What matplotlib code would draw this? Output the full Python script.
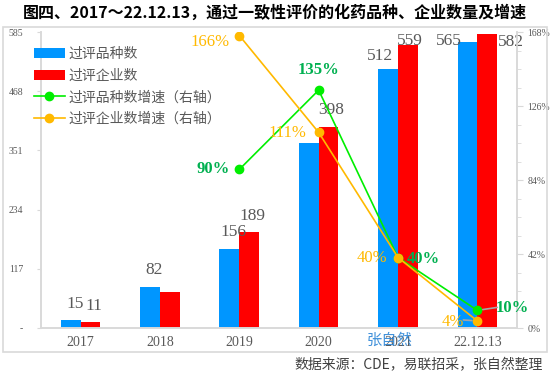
import matplotlib
matplotlib.use('Agg')
import matplotlib.pyplot as plt
from matplotlib.patches import Rectangle

plt.rcParams['font.family'] = ['Noto Sans CJK SC', 'DejaVu Sans']

cats = ['2017', '2018', '2019', '2020', '2021', '22.12.13']
species = [15, 82, 156, 366, 512, 565]
firms = [11, 71, 189, 398, 559, 582]
species_growth = [None, None, 90, 135, 40, 10]
firms_growth = [None, None, 166, 111, 40, 4]
left_ticks = [0, 117, 234, 351, 468, 585]
right_ticks = [0, 42, 84, 126, 168]

# label offsets in pixels (dx, dy), None = no label
species_lab_off = [(4, 16), (4, 16.5), (4, 17), None, (-8, 13), (-19, 1)]
firms_lab_off = [(3, 16), None, (3, 16), (3, 16.5), (2, 4), (24, -8)]
sg_off = [None, None, (-26, 0), (0, 20), (25, -1), (35, 2)]
fg_off = [None, None, (-29, -6), (-31, -1), (-26, 0), (-25, -1)]

BLUE = '#0096FF'
RED = '#FF0000'
GREEN = '#00EE00'
GREEN_T = '#00B050'
ORANGE = '#FFB900'
GRAY = '#595959'
AX = '#D9D9D9'
NUM = 'Liberation Serif'

fig = plt.figure(figsize=(5.5, 3.76), dpi=100)
ax = fig.add_axes([41/550, 1-328/376, 476/550, 296/376])
ax2 = ax.twinx()

x = list(range(len(cats)))
w = 0.25
b1 = ax.bar([i - w/2 for i in x], species, w, color=BLUE, label='过评品种数', zorder=2)
b2 = ax.bar([i + w/2 for i in x], firms, w, color=RED, label='过评企业数', zorder=2)

ax.set_xlim(-0.5, len(cats) - 0.5)
ax.set_ylim(0, 585)
ax.set_yticks(left_ticks)
ax.set_yticklabels(['-'] + [str(t) for t in left_ticks[1:]], fontsize=7, color=GRAY, family=NUM)
ax.set_xticks(x)
ax.set_xticklabels(cats, fontsize=10, color=GRAY, family=NUM)
ax.tick_params(axis='x', length=0, pad=6)
ax.tick_params(axis='y', length=3, color=AX, pad=10)

ax2.set_ylim(0, 168)
ax2.set_yticks(right_ticks)
ax2.set_yticklabels([f'{t}%' for t in right_ticks], fontsize=7, color=GRAY, family=NUM)
ax2.set_yticks([t + 10.5 * k for t in right_ticks[:-1] for k in (1, 2, 3)], minor=True)
ax2.tick_params(axis='y', which='major', length=4, color=AX)
ax2.tick_params(axis='y', which='minor', length=3, color=AX)

for a in (ax, ax2):
    a.spines['top'].set_visible(False)
    for s in ('left', 'right', 'bottom'):
        a.spines[s].set_color(AX)
        a.spines[s].set_linewidth(1.2)

xs = [i for i in x if species_growth[i] is not None]
l1, = ax2.plot(xs, [species_growth[i] for i in xs], color=GREEN, lw=1.2, marker='o',
               ms=6, label='过评品种数增速（右轴）', zorder=3)
l2, = ax2.plot(xs, [firms_growth[i] for i in xs], color=ORANGE, lw=1.2, marker='o',
               ms=6, label='过评企业数增速（右轴）', zorder=3)

# bar labels
for vals, offs, dx0 in ((species, species_lab_off, -w/2), (firms, firms_lab_off, w/2)):
    for i, v in enumerate(vals):
        if offs[i] is None:
            continue
        ax.annotate(str(v), (i + dx0, v), xytext=offs[i], textcoords='offset pixels',
                    ha='center', va='center', fontsize=12.5, color=GRAY, family=NUM, zorder=5)

# growth labels
for vals, offs, col, wt in ((species_growth, sg_off, GREEN_T, 'bold'), (firms_growth, fg_off, ORANGE, 'normal')):
    for i, v in enumerate(vals):
        if v is None:
            continue
        ax2.annotate(f'{v}%', (i, v), xytext=offs[i], textcoords='offset pixels',
                     ha='center', va='center', fontsize=12, color=col, family=NUM,
                     weight=wt, zorder=6)

# leader lines for the small labels
ax2.annotate('', (5, species_growth[5]), xytext=(20, 3), textcoords='offset pixels',
             arrowprops=dict(arrowstyle='-', color='#A6A6A6', lw=1.2, shrinkA=0, shrinkB=4))
ax2.annotate('', (5, firms_growth[5]), xytext=(-14, 1), textcoords='offset pixels',
             arrowprops=dict(arrowstyle='-', color='#A6A6A6', lw=1.2, shrinkA=0, shrinkB=4))

ax2.legend([b1, b2, l1, l2], [b1.get_label(), b2.get_label(), l1.get_label(), l2.get_label()],
           loc='upper left', bbox_to_anchor=(34/550, 1-47/376), bbox_transform=fig.transFigure,
           frameon=False, fontsize=10, handlelength=2.2, handleheight=0.7,
           handletextpad=0.3, labelspacing=0.55, borderpad=0, borderaxespad=0,
           labelcolor=GRAY)

fig.text(0.5, 1-13/376, '图四、2017～22.12.13，通过一致性评价的化药品种、企业数量及增速',
         ha='center', va='center', fontsize=11.5, weight='bold', color='black')
fig.text(543/550, 1-365/376, '数据来源：CDE，易联招采，张自然整理',
         ha='right', va='center', fontsize=10, color='#404040')
fig.text(390/550, 1-340/376, '张自然', ha='center', va='center', fontsize=11,
         color='#2E86D6', alpha=0.9)

fig.patches.append(Rectangle((3/550, 1-352/376), 544/550, 325/376, transform=fig.transFigure,
                             fill=False, edgecolor=AX, lw=1.2))

fig.savefig('out.png', dpi=100)
